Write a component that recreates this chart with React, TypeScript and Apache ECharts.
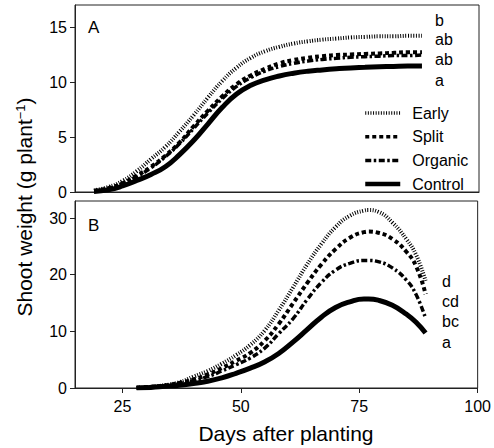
import React, { useEffect, useRef } from "react";
import * as echarts from "echarts";

// Panel A (days after planting)
const daysA = [19, 22, 25, 28, 31, 34, 37, 40, 43, 46, 49, 52, 55, 58, 61, 64, 67, 70, 73, 76, 79, 82, 85, 88];
const earlyA = [0.15, 0.45, 1.0, 1.9, 3.0, 4.1, 5.5, 7.0, 8.6, 10.1, 11.3, 12.2, 12.8, 13.2, 13.5, 13.7, 13.85, 13.95, 14.05, 14.1, 14.15, 14.15, 14.2, 14.2];
const splitA = [0.1, 0.35, 0.8, 1.5, 2.3, 3.3, 4.5, 6.0, 7.4, 8.7, 9.8, 10.6, 11.2, 11.7, 12.0, 12.2, 12.35, 12.45, 12.5, 12.55, 12.6, 12.65, 12.7, 12.7];
const organicA = [0.1, 0.3, 0.75, 1.4, 2.2, 3.2, 4.4, 5.8, 7.2, 8.5, 9.6, 10.4, 11.0, 11.4, 11.7, 11.9, 12.05, 12.15, 12.25, 12.3, 12.35, 12.4, 12.4, 12.45];
const controlA = [0.05, 0.2, 0.55, 1.05, 1.6, 2.3, 3.4, 4.7, 6.2, 7.7, 8.9, 9.7, 10.2, 10.55, 10.8, 10.98, 11.1, 11.2, 11.28, 11.33, 11.38, 11.42, 11.45, 11.45];

// Panel B
const daysB = [28, 31, 34, 37, 40, 43, 46, 49, 52, 55, 58, 61, 64, 67, 70, 73, 76, 77, 79, 82, 85, 87, 89];
const earlyB = [0.05, 0.2, 0.5, 1.0, 2.0, 3.0, 4.3, 5.8, 7.6, 10.1, 13.7, 17.7, 21.8, 25.4, 28.4, 30.4, 31.3, 31.4, 31.1, 29.2, 26.2, 23.5, 18.9];
const splitB = [0.05, 0.2, 0.45, 0.9, 1.5, 2.4, 3.5, 4.8, 6.2, 8.3, 11.3, 14.9, 18.5, 21.8, 24.5, 26.5, 27.5, 27.6, 27.4, 26.3, 24.0, 21.5, 16.6];
const organicB = [0.05, 0.2, 0.4, 0.8, 1.3, 2.0, 3.0, 4.1, 5.3, 7.0, 9.6, 12.2, 15.6, 18.6, 20.8, 22.0, 22.5, 22.5, 22.3, 21.2, 19.0, 16.5, 12.3];
const controlB = [0.0, 0.1, 0.3, 0.5, 0.8, 1.2, 1.8, 2.6, 3.5, 4.6, 6.1, 8.1, 10.3, 12.5, 14.2, 15.2, 15.7, 15.7, 15.5, 14.6, 13.0, 11.6, 9.7];

const seriesNames = ["Early", "Split", "Organic", "Control"];
const xTicks = [25, 50, 75, 100];
const yTicksA = [0, 5, 10, 15];
const yTicksB = [0, 10, 20, 30];
const lettersA = ["b", "ab", "ab", "a"];
const lettersB = ["d", "cd", "bc", "a"];

const FONT = "Liberation Sans, Arial, Helvetica, sans-serif";

const lineStyles: Record<string, any> = {
  Early: { type: [1, 1.6], width: 4, cap: "butt" },
  Split: { type: [4, 3], width: 4, cap: "butt" },
  Organic: { type: [6, 2.5, 2.5, 2.5], width: 3.5, cap: "butt" },
  Control: { type: "solid", width: 5, cap: "butt" },
};

export default function App() {
  const ref = useRef<HTMLDivElement>(null);
  useEffect(() => {
    const chart = echarts.init(ref.current!, null, { renderer: "svg" });
    const dataA = [earlyA, splitA, organicA, controlA];
    const dataB = [earlyB, splitB, organicB, controlB];
    const series: any[] = [];
    seriesNames.forEach((name, k) => {
      series.push({
        name,
        type: "line",
        xAxisIndex: 0,
        yAxisIndex: 0,
        smooth: true,
        symbol: "none",
        lineStyle: { color: "#000", ...lineStyles[name] },
        itemStyle: { color: "#000" },
        data: daysA.map((d, i) => [d, dataA[k][i]]),
      });
      series.push({
        name,
        type: "line",
        xAxisIndex: 1,
        yAxisIndex: 1,
        smooth: true,
        symbol: "none",
        lineStyle: { color: "#000", ...lineStyles[name] },
        itemStyle: { color: "#000" },
        data: daysB.map((d, i) => [d, dataB[k][i]]),
      });
    });

    const axisLine = { show: true, lineStyle: { color: "#222", width: 1 } };
    const labelStyle = { color: "#000", fontSize: 16, fontFamily: FONT };

    const letterTexts: any[] = [];
    const lettersAy = [20, 39.5, 59.5, 80];
    const lettersBy = [281, 301.5, 321.5, 342];
    lettersA.forEach((t, i) =>
      letterTexts.push({
        type: "text",
        x: 435,
        y: lettersAy[i],
        style: { text: t, fill: "#000", font: `16px ${FONT}`, textAlign: "left", textVerticalAlign: "middle" },
      })
    );
    lettersB.forEach((t, i) =>
      letterTexts.push({
        type: "text",
        x: 442,
        y: lettersBy[i],
        style: { text: t, fill: "#000", font: `16px ${FONT}`, textAlign: "left", textVerticalAlign: "middle" },
      })
    );

    chart.setOption({
      animation: false,
      backgroundColor: "#fff",
      grid: [
        { left: 75, top: 5, width: 404, height: 187, show: true, borderColor: "#222", borderWidth: 1, backgroundColor: "transparent" },
        { left: 75, top: 201, width: 404, height: 187, show: true, borderColor: "#222", borderWidth: 1, backgroundColor: "transparent" },
      ],
      legend: {
        data: seriesNames.map((name) => ({
          name,
          lineStyle: { color: "#000", ...lineStyles[name], width: name === "Control" ? 4.5 : 3.5 },
        })),
        orient: "vertical",
        left: 358,
        top: 100,
        itemWidth: 35,
        itemHeight: 14,
        itemGap: 7.7,
        selectedMode: false,
        itemStyle: { opacity: 0 },
        textStyle: { ...labelStyle, padding: [0, 0, 0, 7] },
      },
      xAxis: [
        {
          type: "value",
          gridIndex: 0,
          min: 15,
          max: 100,
          axisLine,
          axisTick: { show: false },
          axisLabel: { show: false },
          splitLine: { show: false },
        },
        {
          type: "value",
          gridIndex: 1,
          min: 15,
          max: 100,
          axisLine,
          axisTick: { show: true, length: 5, customValues: xTicks, lineStyle: { color: "#222" } },
          axisLabel: { ...labelStyle, margin: 10, customValues: xTicks },
          splitLine: { show: false },
        },
      ],
      yAxis: [
        {
          type: "value",
          gridIndex: 0,
          min: 0,
          max: 17,
          axisLine,
          axisTick: { show: true, length: 5, customValues: yTicksA, lineStyle: { color: "#222" } },
          axisLabel: { ...labelStyle, margin: 8, customValues: yTicksA },
          splitLine: { show: false },
        },
        {
          type: "value",
          gridIndex: 1,
          min: 0,
          max: 33,
          axisLine,
          axisTick: { show: true, length: 5, customValues: yTicksB, lineStyle: { color: "#222" } },
          axisLabel: { ...labelStyle, margin: 8, customValues: yTicksB },
          splitLine: { show: false },
        },
      ],
      graphic: [
        { type: "text", x: 88, y: 27, style: { text: "A", fill: "#000", font: `17px ${FONT}`, textAlign: "left", textVerticalAlign: "middle" } },
        { type: "text", x: 88, y: 225, style: { text: "B", fill: "#000", font: `17px ${FONT}`, textAlign: "left", textVerticalAlign: "middle" } },
        {
          type: "text",
          x: 286,
          y: 433,
          style: { text: "Days after planting", fill: "#000", font: `21px ${FONT}`, textAlign: "center", textVerticalAlign: "middle" },
        },
        {
          type: "text",
          x: 24,
          y: 207,
          rotation: Math.PI / 2,
          style: {
            text: "{a|Shoot weight (g plant}{s|−1}{a|)}",
            textAlign: "center",
            textVerticalAlign: "middle",
            rich: {
              a: { fontSize: 21, fontFamily: FONT, fill: "#000", color: "#000", verticalAlign: "bottom" },
              s: { fontSize: 13, fontFamily: FONT, fill: "#000", color: "#000", verticalAlign: "top" },
            },
          },
        },
        ...letterTexts,
      ],
      series,
    });
    return () => chart.dispose();
  }, []);
  return <div ref={ref} style={{ position: "absolute", left: 0, top: 0, width: 494, height: 448 }} />;
}
